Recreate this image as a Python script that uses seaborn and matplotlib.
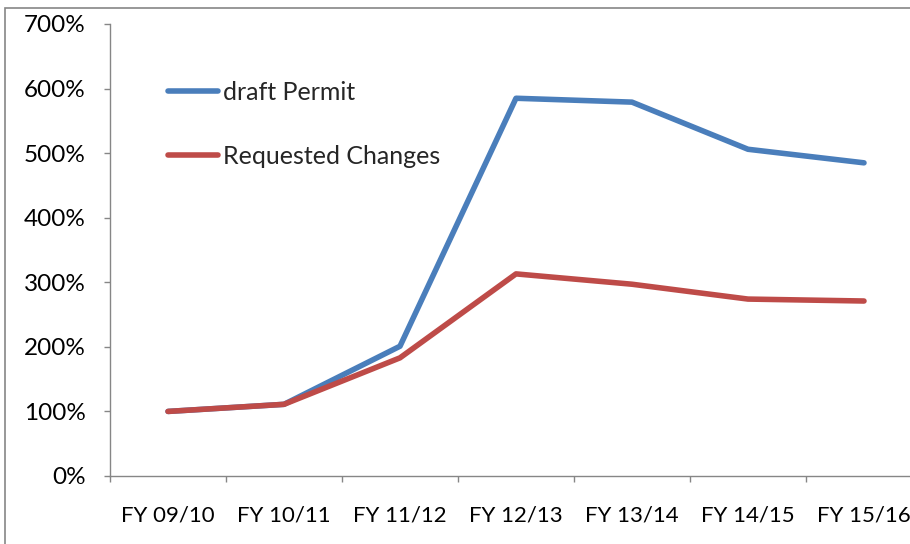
import numpy as np
import pandas as pd
import seaborn as sns
import matplotlib.pyplot as plt
from matplotlib.patches import Rectangle
from matplotlib.ticker import FuncFormatter

# values (percent of FY 09/10)
years = ['FY 09/10', 'FY 10/11', 'FY 11/12', 'FY 12/13', 'FY 13/14', 'FY 14/15', 'FY 15/16']
draft_permit = [100, 111, 201, 585, 579, 506, 485]
requested_changes = [100, 111, 183, 313, 297, 274, 271]
series_names = ['draft Permit', 'Requested Changes']
yticks = [0, 100, 200, 300, 400, 500, 600, 700]

df = pd.DataFrame({
    'year': years * 2,
    'value': draft_permit + requested_changes,
    'series': [series_names[0]] * len(years) + [series_names[1]] * len(years),
})

sns.set_style('white')
plt.rcParams['font.family'] = ['Lato', 'DejaVu Sans']

fig = plt.figure(figsize=(9.1, 5.44), dpi=100)
ax = fig.add_axes([110 / 910, 68 / 544, 812 / 910, 452 / 544])

sns.lineplot(data=df, x='year', y='value', hue='series', ax=ax,
             palette=['#4A7EBB', '#BE4B48'], linewidth=4.0,
             solid_capstyle='round', sort=False)

# axes look like an Excel chart
for side in ['top', 'right']:
    ax.spines[side].set_visible(False)
for side in ['left', 'bottom']:
    ax.spines[side].set_color('#868686')
    ax.spines[side].set_linewidth(1.0)

ax.set_ylim(0, 700)
ax.set_yticks(yticks)
ax.yaxis.set_major_formatter(FuncFormatter(lambda v, p: f'{v:.0f}%'))
ax.tick_params(axis='y', direction='out', length=4.5, width=1, color='#868686',
               pad=13, labelsize=17.5, labelcolor='black', left=True)

ax.set_xlim(-0.5, len(years) - 0.5)
ax.set_xticks(np.arange(-0.5, len(years), 1))
ax.set_xticklabels([])
ax.set_xticks(np.arange(len(years)), minor=True)
ax.set_xticklabels(years, minor=True)
ax.tick_params(axis='x', which='major', direction='out', length=4.5, width=1,
               color='#868686', bottom=True)
ax.tick_params(axis='x', which='minor', length=0, pad=21, labelsize=16,
               labelcolor='black', bottom=True)

ax.set_xlabel('')
ax.set_ylabel('')

leg = ax.legend(loc='upper left', bbox_to_anchor=(0.059, 0.897), frameon=False,
                fontsize=18, handlelength=2.0, handletextpad=0.2,
                labelspacing=1.66, borderaxespad=0)
for line in leg.get_lines():
    line.set_linewidth(4.0)
    line.set_solid_capstyle('round')

# outer chart border (cut off at right and bottom)
fig.patches.append(Rectangle((5 / 910, -0.1), 1.2, (544 - 8) / 544 + 0.1,
                             transform=fig.transFigure, fill=False,
                             edgecolor='#868686', linewidth=1.2))

plt.savefig('out.png', dpi=100)
